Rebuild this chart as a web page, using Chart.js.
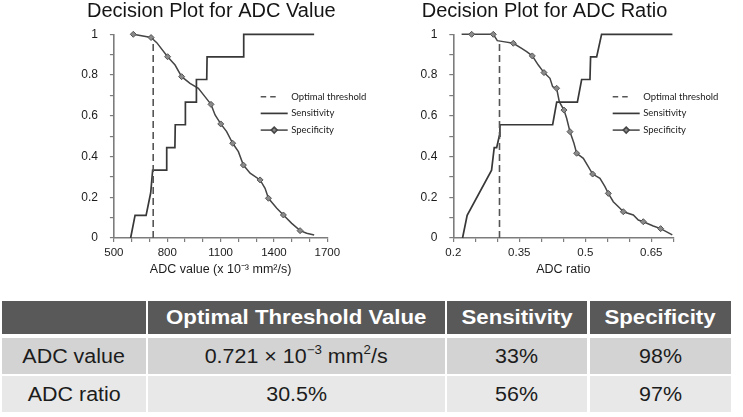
<!DOCTYPE html>
<html>
<head>
<meta charset="utf-8">
<script src="https://cdn.jsdelivr.net/npm/chart.js@4.4.1/dist/chart.umd.min.js"></script>
<style>
  html, body { margin: 0; padding: 0; background: #fff; }
  #page { position: relative; width: 743px; height: 417px; overflow: hidden; }
  .box { position: absolute; top: 0; height: 292px; }
  .cell { position: absolute; display: flex; align-items: center; justify-content: center;
          font-family: "Liberation Sans", Arial, sans-serif; color: #1c1c1c; font-size: 19.5px; }
  .cell span { display: inline-block; transform: scaleX(1.1); white-space: nowrap; }
  .hd { background: #595959; color: #fff; font-weight: bold; font-size: 20px; }
  .hd span { transform: scaleX(1.11); }
  .r1 { background: #d3d3d3; }
  .r2 { background: #e8e8e8; }
  sup { font-size: 62%; line-height: 0; position: relative; top: -0.1em; vertical-align: super; }
</style>
</head>
<body>
<div id="page">
  <div class="box" style="left:0;width:372px"><canvas id="chartValue"></canvas></div>
  <div class="box" style="left:372px;width:371px"><canvas id="chartRatio"></canvas></div>

  <div class="cell hd" style="left:2px;top:301px;width:144px;height:33px"></div>
  <div class="cell hd" style="left:148px;top:301px;width:297px;height:33px"><span>Optimal Threshold Value</span></div>
  <div class="cell hd" style="left:447px;top:301px;width:140px;height:33px"><span>Sensitivity</span></div>
  <div class="cell hd" style="left:590px;top:301px;width:141px;height:33px"><span>Specificity</span></div>

  <div class="cell r1" style="left:2px;top:338px;width:144px;height:36px"><span>ADC value</span></div>
  <div class="cell r1" style="left:148px;top:338px;width:297px;height:36px"><span>0.721 × 10<sup>−3</sup> mm<sup>2</sup>/s</span></div>
  <div class="cell r1" style="left:447px;top:338px;width:140px;height:36px"><span>33%</span></div>
  <div class="cell r1" style="left:590px;top:338px;width:141px;height:36px"><span>98%</span></div>

  <div class="cell r2" style="left:2px;top:376px;width:144px;height:36px"><span>ADC ratio</span></div>
  <div class="cell r2" style="left:148px;top:376px;width:297px;height:36px"><span>30.5%</span></div>
  <div class="cell r2" style="left:447px;top:376px;width:140px;height:36px"><span>56%</span></div>
  <div class="cell r2" style="left:590px;top:376px;width:141px;height:36px"><span>97%</span></div>
</div>

<script>
// ---- ADC value plot ----
const valueThresholdX = 721;
const valueThresholdTop = 0.98;
const valueSensX = [594, 619, 681, 707, 718, 797, 797, 843, 845, 900, 902, 962, 964, 1022, 1024, 1228, 1230, 1626];
const valueSensY = [0, 0.111, 0.111, 0.222, 0.333, 0.333, 0.444, 0.444, 0.556, 0.556, 0.667, 0.667, 0.778, 0.778, 0.889, 0.889, 1, 1];
const valueSpecX = [609, 709, 741, 802, 844, 881, 928, 975, 1012, 1046, 1069, 1101, 1134, 1168, 1200, 1228, 1266, 1322, 1350, 1369, 1416, 1453, 1500, 1547, 1584, 1626];
const valueSpecY = [1, 0.984, 0.959, 0.89, 0.849, 0.792, 0.759, 0.735, 0.694, 0.656, 0.604, 0.56, 0.522, 0.465, 0.424, 0.358, 0.318, 0.285, 0.244, 0.195, 0.146, 0.113, 0.072, 0.036, 0.023, 0.015];
const valueSpecMark = [1, 1, 0, 1, 0, 1, 0, 0, 0, 1, 0, 1, 0, 1, 0, 1, 0, 1, 0, 1, 0, 1, 0, 1, 0, 0];
const valueTickStep = 100;
const valueLabelEvery = 300;

// ---- ADC ratio plot ----
const ratioThresholdX = 0.305;
const ratioThresholdTop = 0.97;
const ratioSensX = [0.221, 0.2315, 0.287, 0.293, 0.2986, 0.3045, 0.306, 0.4258, 0.435, 0.482, 0.4917, 0.5106, 0.512, 0.5258, 0.537, 0.698];
const ratioSensY = [0, 0.111, 0.333, 0.444, 0.444, 0.5, 0.556, 0.556, 0.667, 0.667, 0.778, 0.778, 0.889, 0.889, 1, 1];
const ratioSpecX = [0.2189, 0.2417, 0.2909, 0.3, 0.3136, 0.3364, 0.3553, 0.3667, 0.3795, 0.3932, 0.4061, 0.4197, 0.4258, 0.4348, 0.4409, 0.4515, 0.4576, 0.4652, 0.4742, 0.4803, 0.4955, 0.5068, 0.5167, 0.5333, 0.5447, 0.5523, 0.5636, 0.5788, 0.5864, 0.6091, 0.6205, 0.6318, 0.6545, 0.6712, 0.6977];
const ratioSpecY = [1, 1, 1, 0.969, 0.964, 0.956, 0.931, 0.915, 0.894, 0.849, 0.812, 0.784, 0.743, 0.735, 0.669, 0.628, 0.588, 0.522, 0.465, 0.416, 0.391, 0.35, 0.314, 0.293, 0.252, 0.219, 0.178, 0.146, 0.129, 0.113, 0.088, 0.08, 0.059, 0.046, 0.015];
const ratioSpecMark = [0, 1, 1, 0, 0, 1, 0, 0, 1, 0, 1, 0, 0, 1, 0, 1, 0, 1, 0, 1, 0, 0, 1, 0, 0, 1, 0, 0, 1, 0, 0, 1, 0, 1, 0];
const ratioTickStep = 0.05;
const ratioLabels = [0.2, 0.35, 0.5, 0.65];

const legendLabels = ['Optimal threshold', 'Sensitivity', 'Specificity'];

const FONT = '"Liberation Sans", Arial, sans-serif';
const AXIS = '#7c7c7c';

const pts = (xs, ys) => xs.map((x, i) => ({ x: x, y: ys[i] }));

// title drawn at a fixed offset (the built-in one only centres or left-aligns on the padding)
const headTitle = {
  id: 'headTitle',
  afterDraw(chart, args, opts) {
    const ctx = chart.ctx;
    ctx.save();
    ctx.font = opts.font;
    ctx.fillStyle = '#151515';
    ctx.textAlign = 'left';
    ctx.textBaseline = 'alphabetic';
    ctx.fillText(opts.text, opts.x, opts.y);
    ctx.restore();
  }
};

// legend drawn inside the plot area, Excel style
const insideLegend = {
  id: 'insideLegend',
  afterDraw(chart, args, opts) {
    const ctx = chart.ctx, a = chart.chartArea;
    ctx.save();
    ctx.font = opts.font;
    ctx.textBaseline = 'middle';
    ctx.textAlign = 'left';
    chart.data.datasets.forEach((ds, i) => {
      const x = a.left + opts.x, y = a.top + opts.y + i * opts.gap;
      ctx.strokeStyle = ds.borderColor;
      ctx.lineWidth = ds.borderWidth;
      ctx.setLineDash(ds.borderDash ? [5.5, 4] : []);
      ctx.beginPath();
      ctx.moveTo(x, y);
      ctx.lineTo(x + (ds.borderDash ? 15 : opts.len), y);
      ctx.stroke();
      ctx.setLineDash([]);
      if (ds.pointStyle === 'rectRot') {
        const cx = x + opts.len / 2, r = 3;
        ctx.fillStyle = ds.pointBackgroundColor;
        ctx.beginPath();
        ctx.moveTo(cx, y - r); ctx.lineTo(cx + r, y); ctx.lineTo(cx, y + r); ctx.lineTo(cx - r, y);
        ctx.closePath();
        ctx.fill();
        ctx.stroke();
      }
      ctx.fillStyle = '#1a1a1a';
      ctx.fillText(ds.label, x + opts.len + opts.pad, y);
    });
    ctx.restore();
  }
};

function makeChart(id, cfg) {
  const datasets = [
    {
      label: legendLabels[0],
      data: [{ x: cfg.thrX, y: 0 }, { x: cfg.thrX, y: cfg.thrTop }],
      showLine: true, borderColor: '#555', borderWidth: 1.6, borderDash: [7, 4],
      pointRadius: 0, clip: false
    },
    {
      label: legendLabels[1],
      data: pts(cfg.sensX, cfg.sensY),
      showLine: true, borderColor: '#383838', borderWidth: 1.7,
      pointRadius: 0, clip: false
    },
    {
      label: legendLabels[2],
      data: pts(cfg.specX, cfg.specY),
      showLine: true, borderColor: '#454545', borderWidth: 1.5,
      pointStyle: 'rectRot', pointRadius: cfg.specMark.map(m => m ? 3 : 0),
      pointBackgroundColor: '#8a8a8a', pointBorderColor: '#555', pointBorderWidth: 1,
      clip: false
    }
  ];

  return new Chart(document.getElementById(id), {
    type: 'scatter',
    data: { datasets: datasets },
    plugins: [headTitle, insideLegend],
    options: {
      responsive: true,
      maintainAspectRatio: false,
      animation: false,
      layout: { padding: { left: 0, right: cfg.padR, top: 34.3, bottom: 10 } },
      plugins: {
        legend: { display: false },
        tooltip: { enabled: false },
        title: { display: false },
        headTitle: { text: cfg.title, x: cfg.titleX, y: 16.6, font: '20px ' + FONT },
        insideLegend: { x: cfg.legX, y: 62.4, gap: 16.7, len: 27, pad: 3.5, font: '9.5px Lato, "Open Sans", sans-serif' }
      },
      scales: {
        x: {
          type: 'linear', min: cfg.xMin, max: cfg.xMax,
          afterBuildTicks: s => { s.ticks = cfg.xTicks.map(v => ({ value: v })); },
          afterFit: s => { s.height = 44; s.paddingLeft = 0; s.paddingRight = 0; },
          ticks: {
            autoSkip: false, maxRotation: 0, padding: 4, color: '#1c1c1c',
            font: { family: FONT, size: 11.5 },
            callback: cfg.xLabel
          },
          grid: { drawOnChartArea: false, drawTicks: true, tickLength: 4, color: AXIS, lineWidth: 1.2 },
          border: { display: true, color: AXIS, width: 1.6 },
          title: {
            display: true, text: cfg.xTitle, color: '#1c1c1c',
            font: { family: FONT, size: 12.5 }, padding: { top: 0, bottom: 4.5 }
          }
        },
        y: {
          type: 'linear', min: 0, max: 1,
          afterBuildTicks: s => {
            const t = [];
            for (let k = 0; k <= 10; k++) t.push({ value: k / 10 });
            s.ticks = t;
          },
          afterFit: s => { s.width = cfg.yWidth; s.paddingTop = 0; s.paddingBottom = 0; },
          ticks: {
            autoSkip: false, padding: 12, color: '#1c1c1c',
            font: { family: FONT, size: 12 },
            callback: v => (Math.round(v * 10) % 2 === 0 ? String(Math.round(v * 10) / 10) : '')
          },
          grid: { drawOnChartArea: false, drawTicks: true, tickLength: 4, color: AXIS, lineWidth: 1.2 },
          border: { display: true, color: AXIS, width: 1.6 }
        }
      }
    }
  });
}

const valueTicks = [];
for (let v = 500; v <= 1700; v += valueTickStep) valueTicks.push(v);
const ratioTicks = [];
for (let k = 0; k <= 10; k++) ratioTicks.push(Math.round((0.2 + k * ratioTickStep) * 100) / 100);

makeChart('chartValue', {
  title: 'Decision Plot for ADC Value', titleX: 87,
  xTitle: 'ADC value (x 10⁻³ mm²/s)',
  thrX: valueThresholdX, thrTop: valueThresholdTop,
  sensX: valueSensX, sensY: valueSensY,
  specX: valueSpecX, specY: valueSpecY, specMark: valueSpecMark,
  xMin: 500, xMax: 1700, xTicks: valueTicks,
  xLabel: v => ((v - 500) % valueLabelEvery === 0 ? String(v) : ''),
  padR: 44.7, yWidth: 113.9, legX: 146.8
});

makeChart('chartRatio', {
  title: 'Decision Plot for ADC Ratio', titleX: 49.7,
  xTitle: 'ADC ratio',
  thrX: ratioThresholdX, thrTop: ratioThresholdTop,
  sensX: ratioSensX, sensY: ratioSensY,
  specX: ratioSpecX, specY: ratioSpecY, specMark: ratioSpecMark,
  xMin: 0.2, xMax: 0.7, xTicks: ratioTicks,
  xLabel: v => (ratioLabels.some(l => Math.abs(l - v) < 1e-6) ? String(v) : ''),
  padR: 69.7, yWidth: 81.3, legX: 159.4
});
</script>
</body>
</html>
